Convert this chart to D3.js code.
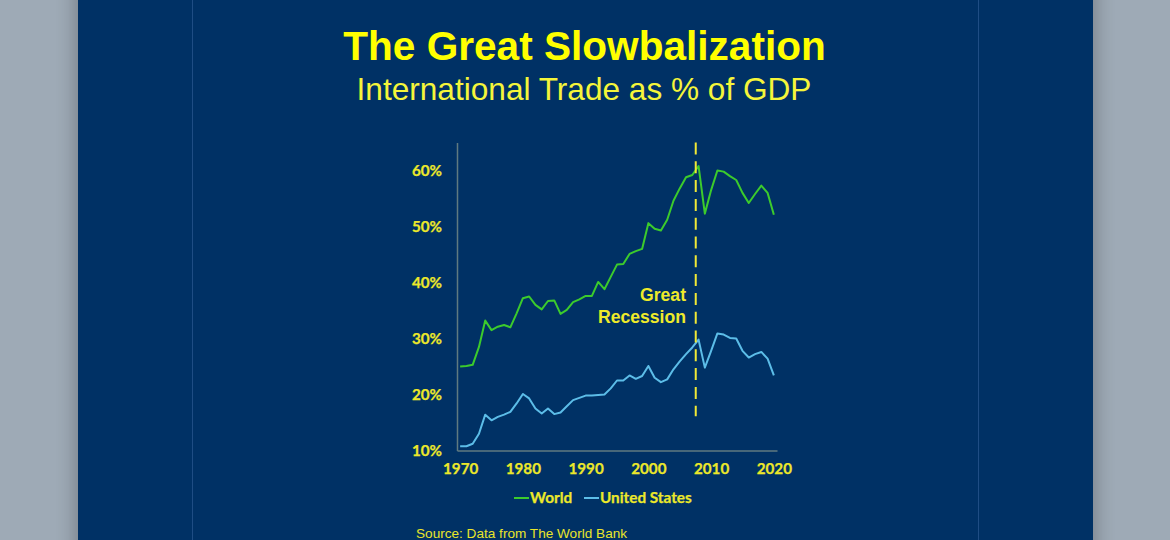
<!DOCTYPE html>
<html>
<head>
<meta charset="utf-8">
<script src="https://cdn.jsdelivr.net/npm/d3@7"></script>
<style>
html, body { margin: 0; padding: 0; background: #9eaab6; overflow: hidden; }
svg { display: block; }
</style>
</head>
<body>
<script>
var w = 1170, h = 540;

var years = d3.range(1970, 2021);
var world = [25.0, 25.1, 25.3, 28.5, 33.2, 31.5, 32.1, 32.4, 32.0, 34.5,
  37.2, 37.5, 36.0, 35.2, 36.7, 36.8, 34.4, 35.1, 36.5, 37.0,
  37.6, 37.6, 40.1, 38.8, 41.0, 43.2, 43.3, 45.1, 45.6, 46.0,
  50.6, 49.6, 49.3, 51.2, 54.6, 56.8, 58.8, 59.2, 60.8, 52.3,
  56.5, 60.0, 59.8, 59.0, 58.3, 56.0, 54.2, 55.8, 57.3, 56.0, 52.1];
var usa = [10.75, 10.75, 11.2, 13.0, 16.4, 15.4, 16.0, 16.4, 16.9, 18.4,
  20.1, 19.3, 17.5, 16.6, 17.5, 16.5, 16.8, 17.9, 19.0, 19.4,
  19.8, 19.8, 19.9, 20.0, 21.1, 22.5, 22.5, 23.4, 22.8, 23.3,
  25.1, 23.0, 22.2, 22.7, 24.5, 25.9, 27.2, 28.4, 29.8, 24.8,
  27.8, 30.9, 30.7, 30.1, 30.0, 27.8, 26.6, 27.2, 27.6, 26.4, 23.4];
var xTicks = [1970, 1980, 1990, 2000, 2010, 2020];
var yTicks = [10, 20, 30, 40, 50, 60];
var recessionYear = 2007.55;
var recessionLabel = ["Great", "Recession"];
var seriesNames = ["World", "United States"];
var seriesColors = ["#3ccb2c", "#5cbde8"];

var svg = d3.select("body").append("svg").attr("width", w).attr("height", h);

// page shadow either side of the panel
var defs = svg.append("defs");
var blur = defs.append("filter").attr("id", "shadow")
  .attr("x", "-10%").attr("width", "120%");
blur.append("feGaussianBlur").attr("stdDeviation", 11);

svg.append("rect").attr("x", 78).attr("y", -40).attr("width", 1015).attr("height", 620)
  .attr("fill", "#000").attr("opacity", 0.3).attr("filter", "url(#shadow)");
svg.append("rect").attr("x", 78).attr("y", 0).attr("width", 1015).attr("height", h)
  .attr("fill", "#003165");

// faint inner rules
svg.selectAll(".rule").data([192.5, 978.5]).enter().append("line")
  .attr("class", "rule")
  .attr("x1", function(d) { return d; }).attr("x2", function(d) { return d; })
  .attr("y1", 0).attr("y2", h)
  .attr("stroke", "#1f4d84").attr("stroke-width", 1);

// titles
svg.append("text").text("The Great Slowbalization")
  .attr("x", 584.5).attr("y", 60)
  .attr("text-anchor", "middle")
  .attr("font-family", "Liberation Sans").attr("font-weight", "bold")
  .attr("font-size", "40.6px").attr("fill", "#ffff00");
svg.append("text").text("International Trade as % of GDP")
  .attr("x", 584).attr("y", 100)
  .attr("text-anchor", "middle")
  .attr("font-family", "Liberation Sans")
  .attr("font-size", "31.6px").attr("fill", "#f5f53a");

var x = d3.scaleLinear().domain([1969.5, 2020.5]).range([457, 777]);
var y = d3.scaleLinear().domain([10, 65]).range([450.5, 142.5]);

var xAxis = d3.axisBottom(x).tickValues(xTicks).tickFormat(d3.format("d")).tickSize(0).tickPadding(13);
var yAxis = d3.axisLeft(y).tickValues(yTicks).tickFormat(function(d) { return d + "%"; }).tickSize(0).tickPadding(15);

var gx = svg.append("g").attr("transform", "translate(0,450.5)").call(xAxis);
var gy = svg.append("g").attr("transform", "translate(457,0)").call(yAxis);

[gx, gy].forEach(function(g) {
  g.select(".domain").attr("stroke", "#5f7a80").attr("stroke-width", 1.5);
  g.selectAll("text")
    .attr("font-family", "Lato").attr("font-weight", "bold")
    .attr("font-size", "15.2px").attr("fill", "#ece82a")
    .attr("stroke", "#ece82a").attr("stroke-width", 0.25);
});

var line = d3.line()
  .x(function(d, i) { return x(years[i]); })
  .y(function(d) { return y(d); });

svg.selectAll(".series").data([world, usa]).enter().append("path")
  .attr("class", "series")
  .attr("d", line)
  .attr("fill", "none")
  .attr("stroke", function(d, i) { return seriesColors[i]; })
  .attr("stroke-width", 2)
  .attr("stroke-linejoin", "round");

// recession marker
svg.append("line")
  .attr("x1", x(recessionYear)).attr("x2", x(recessionYear))
  .attr("y1", y(65)).attr("y2", y(16.1))
  .attr("stroke", "#f0e936").attr("stroke-width", 2)
  .attr("stroke-dasharray", "12,6.8");

svg.selectAll(".recession").data(recessionLabel).enter().append("text")
  .attr("class", "recession")
  .text(function(d) { return d; })
  .attr("x", 686)
  .attr("y", function(d, i) { return 300.5 + i * 22; })
  .attr("text-anchor", "end")
  .attr("font-family", "Liberation Sans").attr("font-weight", "bold")
  .attr("font-size", "17.6px").attr("fill", "#eeea2a");

// legend
var legendX = [514, 584];
var legend = svg.selectAll(".legend").data(seriesNames).enter().append("g")
  .attr("class", "legend")
  .attr("transform", function(d, i) { return "translate(" + legendX[i] + ",498)"; });
legend.append("line")
  .attr("x1", 0).attr("x2", 15).attr("y1", 0).attr("y2", 0)
  .attr("stroke", function(d, i) { return seriesColors[i]; })
  .attr("stroke-width", 2);
legend.append("text").text(function(d) { return d; })
  .attr("x", 16).attr("y", 5)
  .attr("font-family", "Lato").attr("font-weight", "bold")
  .attr("font-size", "15.3px").attr("fill", "#ece82a")
  .attr("stroke", "#ece82a").attr("stroke-width", 0.25);

svg.append("text").text("Source: Data from The World Bank")
  .attr("x", 416).attr("y", 538)
  .attr("font-family", "Liberation Sans")
  .attr("font-size", "13.6px").attr("fill", "#e9e52a");
</script>
</body>
</html>
